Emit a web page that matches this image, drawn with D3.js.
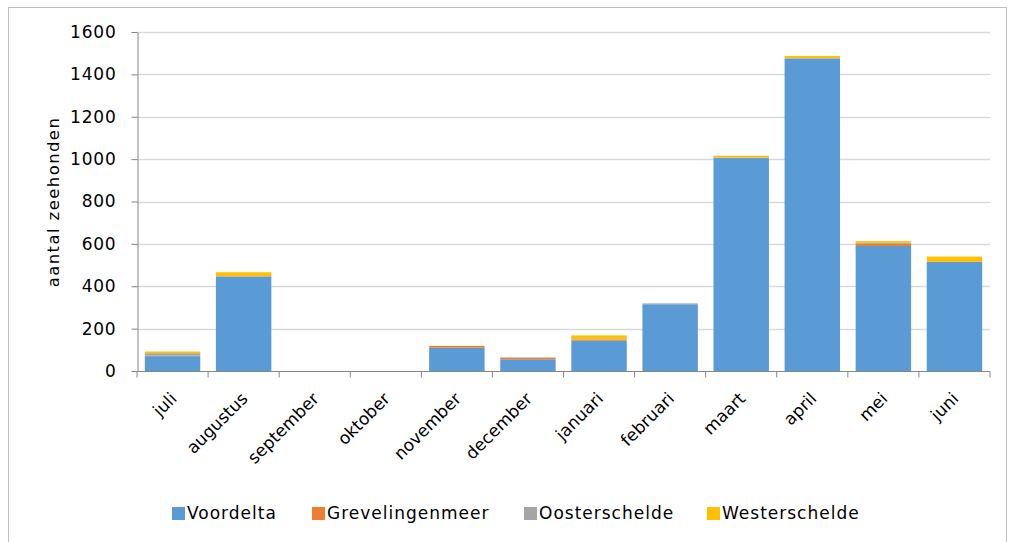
<!DOCTYPE html>
<html><head><meta charset="utf-8">
<script src="https://cdn.jsdelivr.net/npm/d3@7"></script>
<style>body{margin:0;background:#fff;} text{font-family:"DejaVu Sans", sans-serif;}</style>
</head><body><svg id="c" width="1015" height="542"></svg>
<script>
const months = ["juli","augustus","september","oktober","november","december","januari","februari","maart","april","mei","juni"];
const voordelta      = [70, 445, 0, 0, 110, 55, 143, 315, 1005, 1475, 590, 515];
const grevelingenmeer= [2, 0, 0, 0, 8, 8, 5, 0, 0, 0, 10, 0];
const oosterschelde  = [12, 3, 0, 0, 0, 1, 2, 4, 3, 2, 5, 0];
const westerschelde  = [8, 18, 0, 0, 1, 0, 18, 0, 8, 10, 8, 25];
const seriesNames = ["Voordelta","Grevelingenmeer","Oosterschelde","Westerschelde"];
const colors = ["#5B9BD5","#ED7D31","#A5A5A5","#FFC000"];
const yTicks = [0,200,400,600,800,1000,1200,1400,1600];

const svg = d3.select("#c");
const L=137, R=990, T=32, B=371;
svg.append("rect").attr("x",8.5).attr("y",7.5).attr("width",998).attr("height",540)
  .attr("fill","#fff").attr("stroke","#BFBFBF");

const x = d3.scaleBand().domain(months).range([L,R]).paddingInner(0.22).paddingOuter(0.11);
const y = d3.scaleLinear().domain([0,1600]).range([B,T]);

svg.append("g").selectAll("line").data(yTicks.filter(d=>d>0)).join("line")
  .attr("x1",L).attr("x2",R).attr("y1",d=>Math.round(y(d))+0.5).attr("y2",d=>Math.round(y(d))+0.5)
  .attr("stroke","#D9D9D9").attr("stroke-width",1.5);

const table = months.map((m,i)=>({month:m, Voordelta:voordelta[i], Grevelingenmeer:grevelingenmeer[i], Oosterschelde:oosterschelde[i], Westerschelde:westerschelde[i]}));
const stacked = d3.stack().keys(seriesNames)(table);
svg.append("g").selectAll("g").data(stacked).join("g").attr("fill",(d,i)=>colors[i])
  .selectAll("rect").data(d=>d).join("rect")
  .attr("x",d=>x(d.data.month)).attr("width",x.bandwidth())
  .attr("y",d=>y(d[1])).attr("height",d=>Math.max(0,y(d[0])-y(d[1])));

const ya = svg.append("g").attr("transform",`translate(${L+0.5},0)`)
  .call(d3.axisLeft(y).tickValues(yTicks).tickFormat(d3.format("d")).tickSize(6).tickPadding(15).tickSizeOuter(0));
ya.select(".domain").attr("stroke","#868686");
ya.selectAll(".tick line").attr("stroke","#868686");
ya.selectAll("text").attr("font-size",17).attr("letter-spacing",0.8).attr("fill","#000").style("font-family","DejaVu Sans");

const xa = svg.append("g").attr("transform",`translate(0,${B+0.5})`);
xa.append("line").attr("x1",L).attr("x2",R).attr("stroke","#868686");
const bounds = d3.range(months.length+1).map(i=>L+i*(R-L)/months.length);
xa.selectAll("line.t").data(bounds).join("line").attr("class","t")
  .attr("x1",d=>d).attr("x2",d=>d).attr("y1",0).attr("y2",6).attr("stroke","#868686");
xa.selectAll("text").data(months).join("text")
  .attr("transform",d=>`translate(${x(d)+x.bandwidth()/2+1},${24}) rotate(-45)`)
  .attr("text-anchor","end").attr("dy","0.35em").attr("font-size",17).attr("fill","#000")
  .text(d=>d);

svg.append("text").attr("transform","translate(59,202) rotate(-90)").attr("text-anchor","middle")
  .attr("font-size",16.5).attr("letter-spacing",1.4).attr("fill","#000").text("aantal zeehonden");

const legX = [172,312,524,707];
const lg = svg.append("g");
seriesNames.forEach((s,i)=>{
  lg.append("rect").attr("x",legX[i]).attr("y",507).attr("width",13).attr("height",13).attr("fill",colors[i]);
  lg.append("text").attr("x",legX[i]+15).attr("y",513.5).attr("dy","0.35em").attr("font-size",17).attr("letter-spacing",1).attr("fill","#000").text(s);
});
</script></body></html>
